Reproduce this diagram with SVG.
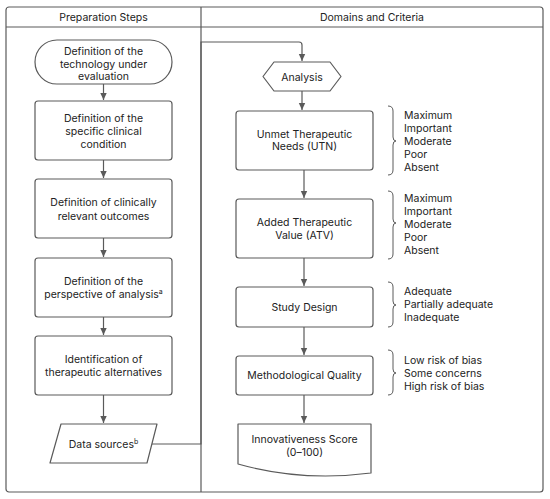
<svg xmlns="http://www.w3.org/2000/svg" width="550" height="499" viewBox="0 0 550 499">
<defs>
<style>
text{font-family:Inter,"Liberation Sans",sans-serif;font-size:10.5px;fill:#222;}
.c{text-anchor:middle;}
.s{fill:#fff;stroke:#5a5a5a;stroke-width:1.2;}
.ln{fill:none;stroke:#5a5a5a;stroke-width:1.2;}
.br{fill:none;stroke:#5a5a5a;stroke-width:1;}
</style>
<marker id="ah" markerWidth="8" markerHeight="8" refX="7" refY="4" orient="auto" markerUnits="userSpaceOnUse">
<path d="M0,0.8 L7,4 L0,7.2 Z" fill="#5a5a5a"/>
</marker>
</defs>
<rect width="550" height="499" fill="#fff"/>
<g id="frame">
<rect x="6" y="7" width="537" height="485" rx="3" class="ln"/>
<line x1="6" y1="27" x2="543" y2="27" class="ln"/>
<line x1="201" y1="7" x2="201" y2="492" class="ln"/>
<text x="103.5" y="21" class="c">Preparation Steps</text>
<text x="372" y="21" class="c">Domains and Criteria</text>
</g>
<g id="connectors">
<line x1="103.5" y1="84" x2="103.5" y2="100" class="ln" marker-end="url(#ah)"/>
<line x1="103.5" y1="160" x2="103.5" y2="178" class="ln" marker-end="url(#ah)"/>
<line x1="103.5" y1="238" x2="103.5" y2="257" class="ln" marker-end="url(#ah)"/>
<line x1="103.5" y1="317" x2="103.5" y2="335" class="ln" marker-end="url(#ah)"/>
<line x1="103.5" y1="395" x2="103.5" y2="423" class="ln" marker-end="url(#ah)"/>
<path d="M152,444 H201 V42 H299 Q302,42 302,45 V61" class="ln" marker-end="url(#ah)"/>
<line x1="302" y1="91" x2="302" y2="110" class="ln" marker-end="url(#ah)"/>
<line x1="304" y1="170" x2="304" y2="198" class="ln" marker-end="url(#ah)"/>
<line x1="304" y1="258" x2="304" y2="286" class="ln" marker-end="url(#ah)"/>
<line x1="304" y1="327" x2="304" y2="355" class="ln" marker-end="url(#ah)"/>
<line x1="304" y1="395" x2="304" y2="423" class="ln" marker-end="url(#ah)"/>
</g>
<g id="n-technology">
<rect x="35" y="40" width="137" height="44" rx="22" class="s"/>
<text x="103.5" y="55" class="c">Definition of the</text>
<text x="103.5" y="67.5" class="c">technology under</text>
<text x="103.5" y="80" class="c">evaluation</text>
</g>
<g id="n-condition">
<rect x="35" y="101" width="137" height="59" rx="3" class="s"/>
<text x="103.5" y="122" class="c">Definition of the</text>
<text x="103.5" y="135" class="c">specific clinical</text>
<text x="103.5" y="148" class="c">condition</text>
</g>
<g id="n-outcomes">
<rect x="35" y="179" width="137" height="59" rx="3" class="s"/>
<text x="103.5" y="206" class="c">Definition of clinically</text>
<text x="103.5" y="219.5" class="c">relevant outcomes</text>
</g>
<g id="n-perspective">
<rect x="35" y="258" width="137" height="59" rx="3" class="s"/>
<text x="103.5" y="285" class="c">Definition of the</text>
<text x="103.5" y="298" class="c">perspective of analysis<tspan font-size="7" dy="-4">a</tspan></text>
</g>
<g id="n-alternatives">
<rect x="35" y="336" width="137" height="59" rx="3" class="s"/>
<text x="103.5" y="363" class="c">Identification of</text>
<text x="103.5" y="376" class="c">therapeutic alternatives</text>
</g>
<g id="n-data">
<path d="M61,424 H157 L147,463 H50 Z" class="s" stroke-linejoin="round"/>
<text x="103.5" y="448" class="c">Data sources<tspan font-size="7" dy="-4">b</tspan></text>
</g>
<g id="n-analysis">
<path d="M263,76.5 L274,62 H330 L341,76.5 L330,91 H274 Z" class="s" stroke-linejoin="round"/>
<text x="302" y="80.5" class="c">Analysis</text>
</g>
<g id="n-utn">
<rect x="236" y="111" width="137" height="59" rx="3" class="s"/>
<text x="304.5" y="138" class="c">Unmet Therapeutic</text>
<text x="304.5" y="150" class="c">Needs (UTN)</text>
</g>
<g id="n-atv">
<rect x="236" y="199" width="137" height="59" rx="3" class="s"/>
<text x="304.5" y="226" class="c">Added Therapeutic</text>
<text x="304.5" y="239" class="c">Value (ATV)</text>
</g>
<g id="n-design">
<rect x="236" y="287" width="137" height="40" rx="3" class="s"/>
<text x="304.5" y="311" class="c">Study Design</text>
</g>
<g id="n-quality">
<rect x="236" y="356" width="137" height="39" rx="3" class="s"/>
<text x="304.5" y="379" class="c">Methodological Quality</text>
</g>
<g id="n-score">
<path d="M238,424 H371 V473 Q302,482 238,464 Z" class="s" stroke-linejoin="round"/>
<text x="304.5" y="443" class="c">Innovativeness Score</text>
<text x="304.5" y="456" class="c">(0–100)</text>
</g>
<g id="braces">
<path d="M388,106 Q393,106 393,111 V137 Q393,141 396,141 Q393,141 393,145 V170 Q393,175 388,175" class="br"/>
<path d="M388,191 Q393,191 393,196 V219 Q393,223 396,223 Q393,223 393,227 V254 Q393,259 388,259" class="br"/>
<path d="M388,282 Q393,282 393,287 V301 Q393,305 396,305 Q393,305 393,309 V322 Q393,327 388,327" class="br"/>
<path d="M388,350 Q393,350 393,355 V369 Q393,373 396,373 Q393,373 393,377 V390 Q393,395 388,395" class="br"/>
</g>
<g id="lists">
<text x="404" y="119">Maximum</text>
<text x="404" y="132">Important</text>
<text x="404" y="145">Moderate</text>
<text x="404" y="158">Poor</text>
<text x="404" y="171">Absent</text>
<text x="404" y="202">Maximum</text>
<text x="404" y="215">Important</text>
<text x="404" y="228">Moderate</text>
<text x="404" y="241">Poor</text>
<text x="404" y="254">Absent</text>
<text x="404" y="295">Adequate</text>
<text x="404" y="308">Partially adequate</text>
<text x="404" y="321">Inadequate</text>
<text x="404" y="364">Low risk of bias</text>
<text x="404" y="377">Some concerns</text>
<text x="404" y="390">High risk of bias</text>
</g>
</svg>
